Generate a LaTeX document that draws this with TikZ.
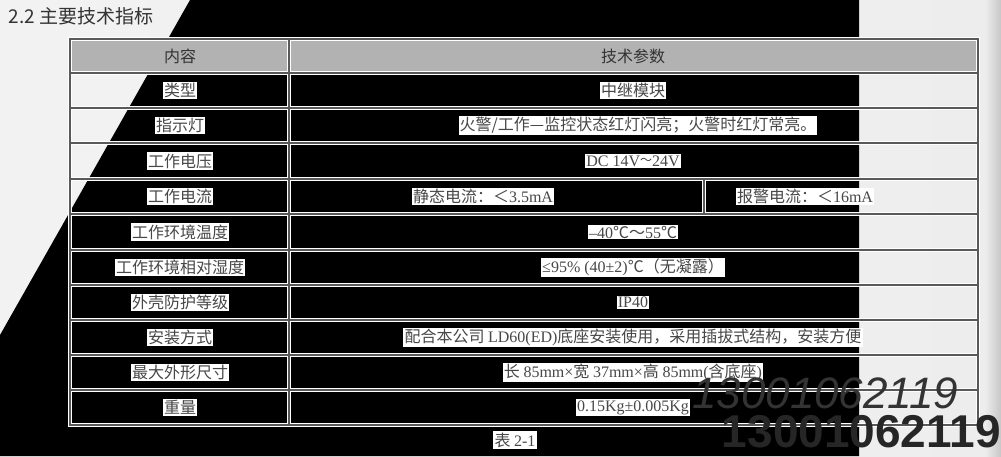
\documentclass[tikz,border=0pt]{standalone}
\usepackage{fontspec}
\setmainfont{Liberation Serif}
\newfontfamily\cjk{Noto Sans CJK SC}
\newfontfamily\heros{Liberation Sans}
\begin{document}
\begin{tikzpicture}[x=1pt,y=-1pt,
  cell/.style={fill=white,inner sep=1.2pt,text=black!72,font=\fontsize{16}{18}\selectfont\cjk},
  head/.style={inner sep=1pt,text=black!80,font=\fontsize{16}{18}\selectfont\cjk},
  grid/.style={draw=white,line width=3.2pt},
  gridd/.style={draw=black!65,line width=1.3pt}]
\useasboundingbox (0,0) rectangle (1001,456);
\shade[left color=white!95!black,right color=white!93!black] (0,0) rectangle (1001,456);
\shade[left color=white!93!black,right color=white!78!black] (985,0) rectangle (1001,456);
\fill[black] (190,0) -- (859,0) -- (859,456) -- (0,456) -- (0,335) -- cycle;
% header
\fill[white!70!black] (70,39) rectangle (978,73);
% grid
\foreach \y in {73,108,143,179,214,250,285,320,355,390} {\draw[grid] (70,\y) -- (978,\y);}
\draw[grid] (70,39) rectangle (978,425);
\draw[grid] (289,39) -- (289,425);
\draw[grid] (704,179) -- (704,214);
\foreach \y in {73,108,143,179,214,250,285,320,355,390} {\draw[gridd] (70,\y) -- (978,\y);}
\draw[gridd] (70,39) rectangle (978,425);
\draw[gridd] (289,39) -- (289,425);
\draw[gridd] (704,179) -- (704,214);
% title
\node[anchor=west,text=black!80,font=\fontsize{19}{21}\selectfont\cjk] (title) at (5,16) {2.2 主要技术指标};
% header
\node[head] (h1) at (180,56) {内容};
\node[head] (h2) at (633,56) {技术参数};
% col1
\node[cell] (a1) at (180,90.5) {类型};
\node[cell] (a2) at (180,125.5) {指示灯};
\node[cell] (a3) at (180,161) {工作电压};
\node[cell] (a4) at (180,196.5) {工作电流};
\node[cell] (a5) at (180,232) {工作环境温度};
\node[cell] (a6) at (180,267.5) {工作环境相对湿度};
\node[cell] (a7) at (180,302.5) {外壳防护等级};
\node[cell] (a8) at (180,337.5) {安装方式};
\node[cell] (a9) at (180,372.5) {最大外形尺寸};
\node[cell] (a10) at (180,407.5) {重量};
% col2
\node[cell] (b1) at (633,90.5) {中继模块};
\node[cell] (b2) at (638,125.5) {火警/工作—监控状态红灯闪亮；火警时红灯常亮。};
\node[cell,font=\fontsize{16}{18}\selectfont\rmfamily] (b3) at (633,161) {DC 14V\raisebox{.2ex}{\cjk\fontsize{12}{12}\selectfont\char"FF5E}24V};
\node[cell] (b4) at (483,196.5) {静态电流：＜{\rmfamily 3.5mA}};
\node[cell] (b4b) at (805,196.5) {报警电流：＜{\rmfamily 16mA}};
\node[cell] (b5) at (633,232) {{\rmfamily –40}℃～{\rmfamily 55}℃};
\node[cell] (b6) at (633,267.5) {{\rmfamily ≤95\%\ (40±2)}℃（无凝露）};
\node[cell,font=\fontsize{16}{18}\selectfont\rmfamily] (b7) at (633,302.5) {IP40};
\node[cell] (b8) at (633,337.5) {配合本公司 {\rmfamily LD60(ED)}底座安装使用，采用插拔式结构，安装方便};
\node[cell] (b9) at (633,372.5) {长 {\rmfamily 85mm×}宽 {\rmfamily 37mm×}高 {\rmfamily 85mm(}含底座{\rmfamily )}};
\node[cell,font=\fontsize{16}{18}\selectfont\rmfamily] (b10) at (633,407.5) {0.15Kg±0.005Kg};
\node[cell] (cap) at (515,440) {表 {\rmfamily 2-1}};
% watermarks
\node[anchor=west,text=black!80,font=\fontsize{44}{46}\selectfont\heros\itshape,inner sep=0pt] (w1) at (692,393) {13001062119};
\node[anchor=east,text=black!85,font=\fontsize{46}{48}\selectfont\heros\bfseries,inner sep=0pt] (w2) at (1001,432) {13001062119};
\end{tikzpicture}
\end{document}
